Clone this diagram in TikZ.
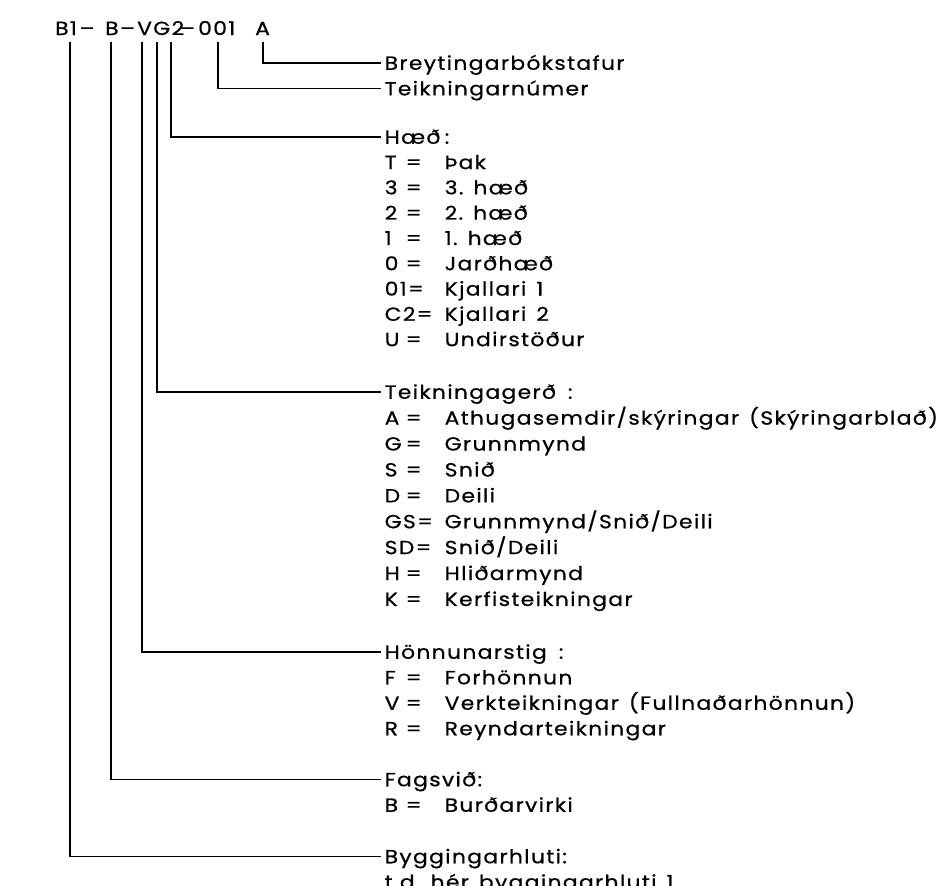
\documentclass[tikz,border=0pt]{standalone}
\usepackage{fontspec}
\setmainfont{Poppins}[LetterSpace=7,FakeStretch=1.15,FakeBold=0.6]
\newcommand\onec[1]{\makebox[21pt][l]{#1}=}
\newcommand\crow[2]{\hbox to 60pt{#1\hfil}#2}
\newcommand\wsp{\hspace{10pt}}
\begin{document}
\begin{tikzpicture}[x=1pt,y=-1pt,
  txt/.style={inner xsep=3.5pt, inner ysep=0pt, text height=13.5pt, text depth=0pt, font=\fontsize{19}{23}\selectfont},
  lab/.style={txt, anchor=west},
  ttl/.style={inner sep=0pt, anchor=base west, font=\fontsize{19}{23}\selectfont},
  tdash/.style={inner sep=0pt, anchor=base, font=\fontsize{19}{23}\selectfont},
  conn/.style={line width=1.5pt, line join=miter}]
\useasboundingbox (0,0) rectangle (946,886);
\fill[white] (0,0) rectangle (946,886);
% title
\node[ttl] (tB1) at (55,35) {B1};
\node[tdash] (td1) at (87,35) {–};
\node[ttl] (tB) at (105,35) {B};
\node[tdash] (td2) at (127.5,35) {–};
\node[ttl] (tVG) at (137,35) {VG2};
\node[tdash] (td3) at (187.5,35) {–};
\node[ttl] (t001) at (198,35) {001};
\node[ttl] (tA) at (255,35) {A};
% tick tops
\coordinate (k1) at (70,42);
\coordinate (k2) at (111,42);
\coordinate (k3) at (142,42);
\coordinate (k4) at (157,42);
\coordinate (k5) at (171,42);
\coordinate (k6) at (218,42);
\coordinate (k7) at (263,42);
% labels
\node[lab] (l7) at (381,63.0) {Breytingarbókstafur};
\node[lab] (l6) at (381,88.6) {Teikningarnúmer};
\node[lab] (l5) at (381,137.0) {\crow{Hæð}{:}};
\node[lab] (r51) at (381,162.3) {\crow{\onec{T}}{Þak}};
\node[lab] (r52) at (381,187.6) {\crow{\onec{3}}{3.\wsp hæð}};
\node[lab] (r53) at (381,212.9) {\crow{\onec{2}}{2.\wsp hæð}};
\node[lab] (r54) at (381,238.2) {\crow{\onec{1}}{1.\wsp hæð}};
\node[lab] (r55) at (381,263.5) {\crow{\onec{0}}{Jarðhæð}};
\node[lab] (r56) at (381,288.8) {\crow{01=}{Kjallari\wsp 1}};
\node[lab] (r57) at (381,314.1) {\crow{C2=}{Kjallari\wsp 2}};
\node[lab] (r58) at (381,339.4) {\crow{\onec{U}}{Undirstöður}};
\node[lab] (l4) at (381,392.0) {Teikningagerð\hspace{12pt}:};
\node[lab] (r41) at (381,417.9) {\crow{\onec{A}}{Athugasemdir/skýringar\wsp(Skýringarblað)}};
\node[lab] (r42) at (381,443.8) {\crow{\onec{G}}{Grunnmynd}};
\node[lab] (r43) at (381,469.7) {\crow{\onec{S}}{Snið}};
\node[lab] (r44) at (381,495.6) {\crow{\onec{D}}{Deili}};
\node[lab] (r45) at (381,521.5) {\crow{GS=}{Grunnmynd/Snið/Deili}};
\node[lab] (r46) at (381,547.4) {\crow{SD=}{Snið/Deili}};
\node[lab] (r47) at (381,573.3) {\crow{\onec{H}}{Hliðarmynd}};
\node[lab] (r48) at (381,599.2) {\crow{\onec{K}}{Kerfisteikningar}};
\node[lab] (l3) at (381,652.0) {Hönnunarstig\hspace{12pt}:};
\node[lab] (r31) at (381,677.5) {\crow{\onec{F}}{Forhönnun}};
\node[lab] (r32) at (381,703.0) {\crow{\onec{V}}{Verkteikningar\wsp(Fullnaðarhönnun)}};
\node[lab] (r33) at (381,728.5) {\crow{\onec{R}}{Reyndarteikningar}};
\node[lab] (l2) at (381,779.5) {Fagsvið:};
\node[lab] (r21) at (381,805.0) {\crow{\onec{B}}{Burðarvirki}};
\node[lab] (l1) at (381,856.5) {Byggingarhluti:};
\node[lab] (r11) at (381,882.0) {t.d.\wsp hér\wsp byggingarhluti\wsp 1};
% connectors
\draw[conn] (k1) |- (l1.west);
\draw[conn] (k2) |- (l2.west);
\draw[conn] (k3) |- (l3.west);
\draw[conn] (k4) |- (l4.west);
\draw[conn] (k5) |- (l5.west);
\draw[conn] (k6) |- (l6.west);
\draw[conn] (k7) |- (l7.west);
\end{tikzpicture}
\end{document}
